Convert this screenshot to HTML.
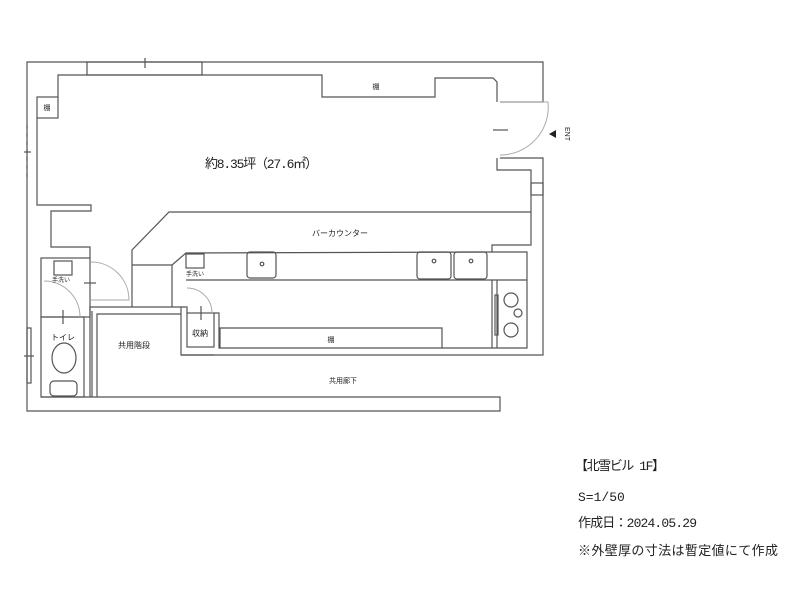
<!DOCTYPE html>
<html><head><meta charset="utf-8"><style>
html,body{margin:0;padding:0;background:#fff;width:800px;height:600px;overflow:hidden}
svg text{font-family:"Liberation Sans","Noto Sans CJK JP",sans-serif;fill:#222}
svg text.m{font-family:"Liberation Mono","Noto Sans CJK JP",monospace}
</style></head><body>
<svg width="800" height="600" viewBox="0 0 800 600" xmlns="http://www.w3.org/2000/svg">
<g fill="none" stroke="#555" stroke-width="1.2">
<polyline points="500,102 543,102 543,62 27,62 27,411 500,411 500,397 41,397"/>
<polyline points="500,158 543,158 543,355 181,355 181,307"/>
<rect x="87" y="62" width="115" height="13"/>
<line x1="145" y1="58" x2="145" y2="68"/>
<polyline points="58,97 58,75 322,75 322,97 435,97 435,78 493,78 497,82 497,102"/>
<polyline points="497,158 497,170 531,170 531,245 492,245 492,252"/>
<line x1="493" y1="130" x2="508" y2="130"/>
<rect x="531" y="183" width="12" height="12"/>
<rect x="37" y="97" width="21" height="21"/>
<polyline points="37,118 37,205 91,205 91,211 51,211 51,247 90,247 90,258"/>
<line x1="27" y1="125" x2="27" y2="178" stroke-dasharray="4,4"/>
<line x1="24" y1="152" x2="31" y2="152"/>
<polyline points="132,307 132,250 169,212 531,212"/>
<polyline points="132,265 172,265 172,307"/>
<polyline points="172,265 186,253 492,252 527,252 527,348 219,348 219,313 214,313"/>
<line x1="186" y1="280" x2="527" y2="280"/>
<polyline points="90,307 187,307 187,313"/>
<rect x="247" y="252" width="29" height="26" rx="3"/>
<circle cx="262" cy="264" r="1.8"/>
<rect x="417" y="252" width="34" height="27" rx="3"/>
<circle cx="434" cy="261" r="1.8"/>
<rect x="454" y="252" width="33" height="27" rx="3"/>
<circle cx="471" cy="261" r="1.8"/>
<rect x="186" y="254" width="18" height="14"/>
<line x1="492" y1="280" x2="492" y2="348"/>
<line x1="497" y1="280" x2="497" y2="348"/>
<rect x="495" y="295" width="3" height="40"/>
<circle cx="511" cy="300" r="7"/>
<circle cx="518" cy="313" r="4"/>
<circle cx="511" cy="330" r="7"/>
<polyline points="220,348 220,328 442,328 442,348"/>
<rect x="187" y="313" width="27" height="34"/>
<line x1="181" y1="355" x2="214" y2="355"/>
<polyline points="90,397 90,307"/>
<polyline points="97,397 97,314 181,314"/>
<line x1="92" y1="311" x2="92" y2="397"/>
<rect x="41" y="258" width="49" height="59"/>
<rect x="41" y="317" width="43" height="80"/>
<rect x="54" y="261" width="18" height="14"/>
<rect x="27" y="328" width="4" height="55"/>
<line x1="24" y1="356" x2="34" y2="356"/>
<ellipse cx="64" cy="358" rx="12" ry="15"/>
<rect x="50" y="381" width="27" height="15" rx="4"/>
<line x1="63" y1="310" x2="63" y2="324"/>
<line x1="84" y1="283" x2="96" y2="283"/>
<line x1="201" y1="306" x2="201" y2="320"/>
</g>
<g fill="none" stroke="#aaa" stroke-width="1">
<path d="M500,102 L548,102 A48,48 0 0 1 500,155"/>
<path d="M91,262 A38,38 0 0 1 129,300 L91,300"/>
<path d="M44,281 A36,36 0 0 1 80,317"/>
<path d="M187,288 A25,25 0 0 1 212,313"/>
</g>
<polygon points="549,134 556,130 556,138" fill="#222"/>
<text x="565" y="134" font-size="7" transform="rotate(90 565 134)" text-anchor="middle">ENT</text>
<text class="m" x="205" y="168" font-size="13" textLength="113">約8.35坪（27.6㎡）</text>
<text x="376" y="89" font-size="7" text-anchor="middle">棚</text>
<text x="47" y="110" font-size="7" text-anchor="middle">棚</text>
<text x="340" y="236" font-size="8" text-anchor="middle">バーカウンター</text>
<text x="61" y="282" font-size="6" text-anchor="middle">手洗い</text>
<text x="195" y="276" font-size="6" text-anchor="middle">手洗い</text>
<text x="63" y="340" font-size="8" text-anchor="middle">トイレ</text>
<text x="134" y="348" font-size="8" text-anchor="middle">共用階段</text>
<text x="200" y="336" font-size="8" text-anchor="middle">収納</text>
<text x="331" y="342" font-size="7" text-anchor="middle">棚</text>
<text x="343" y="383" font-size="7" text-anchor="middle">共用廊下</text>
<text class="m" x="575" y="470" font-size="13" textLength="90">【北雪ビル 1F】</text>
<text class="m" x="578" y="501" font-size="13">S=1/50</text>
<text class="m" x="578" y="527" font-size="13" textLength="119">作成日：2024.05.29</text>
<text class="m" x="578" y="555" font-size="13" textLength="200">※外壁厚の寸法は暫定値にて作成</text>
</svg>
</body></html>
